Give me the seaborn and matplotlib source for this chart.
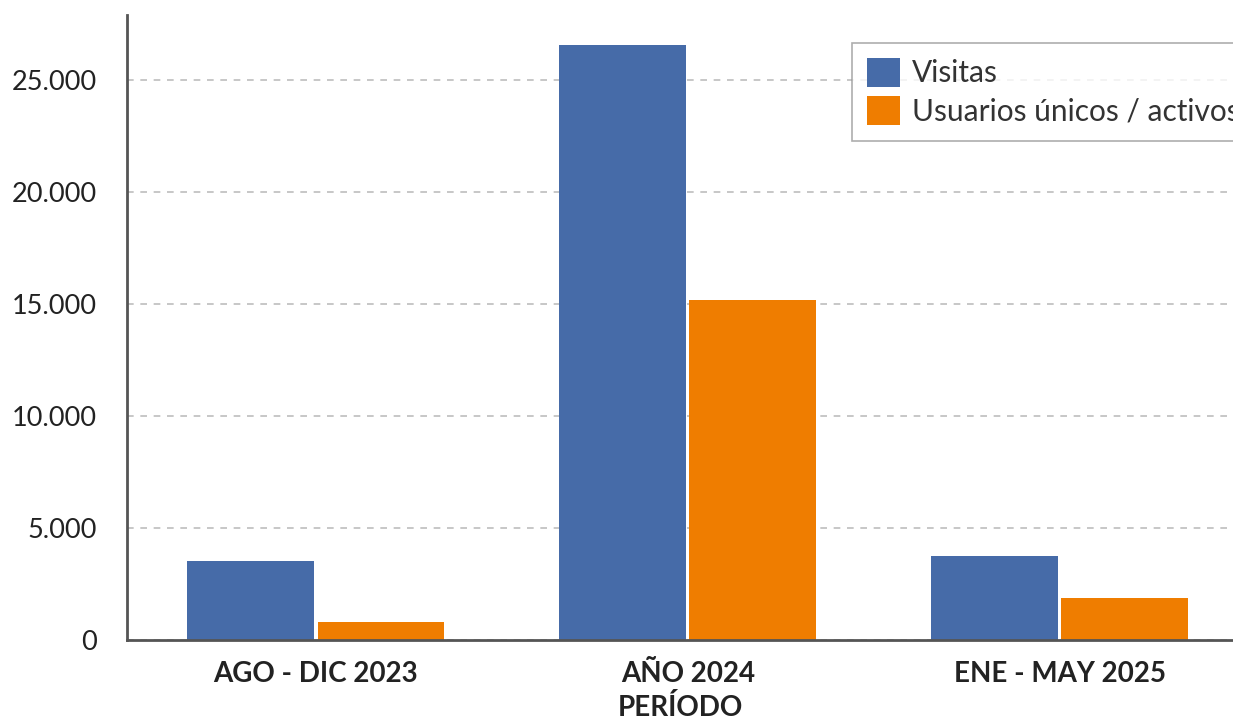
import pandas as pd
import matplotlib
matplotlib.use("Agg")
import matplotlib.pyplot as plt
import seaborn as sns
from matplotlib.ticker import FuncFormatter

periodos = ["AGO - DIC 2023", "AÑO 2024", "ENE - MAY 2025"]
visitas = [3520, 26570, 3740]
usuarios = [810, 15180, 1860]
series = ["Visitas", "Usuarios únicos / activos"]
colores = ["#466ba8", "#ef7d00"]

df = pd.DataFrame({
    "periodo": periodos * 2,
    "valor": visitas + usuarios,
    "serie": [series[0]] * 3 + [series[1]] * 3,
})

sns.set_theme(style="white")
plt.rcParams["font.family"] = ["Lato", "DejaVu Sans"]

fig = plt.figure(figsize=(12.33, 7.16), dpi=100)
ax = fig.add_axes([127 / 1233, 1 - 640 / 716, 1 - 127 / 1233, (640 - 15) / 716])

sns.barplot(data=df, x="periodo", y="valor", hue="serie", palette=colores,
            width=0.7, gap=0.025, saturation=1, edgecolor="none", ax=ax)

ax.set_xlim(-0.508, 2.466)
ax.set_ylim(0, 27900)
ax.set_yticks([0, 5000, 10000, 15000, 20000, 25000])
ax.yaxis.set_major_formatter(FuncFormatter(lambda v, p: f"{int(v):,}".replace(",", ".")))
ax.yaxis.grid(True, linestyle=(0, (4, 4)), color="#bdbdbd", linewidth=1.2)
ax.set_axisbelow(True)

for s in ["top", "right"]:
    ax.spines[s].set_visible(False)
for s in ["left", "bottom"]:
    ax.spines[s].set_color("#555555")
    ax.spines[s].set_linewidth(2)

ax.tick_params(axis="y", length=7, color="#bdbdbd", width=1.2, labelsize=19.5,
               labelcolor="#222222", pad=15)
ax.tick_params(axis="x", length=0, labelsize=20, labelcolor="#222222", pad=15)
for t in ax.get_xticklabels():
    t.set_fontweight("bold")

ax.set_ylabel("")
ax.set_xlabel("PERÍODO", fontsize=20, fontweight="bold", color="#222222", labelpad=5)

leg = ax.legend(loc="upper left", bbox_to_anchor=(852 / 1233, 1 - 43 / 716),
                bbox_transform=fig.transFigure, fontsize=21.5, frameon=True,
                fancybox=False, edgecolor="#999999", handlelength=1.1,
                handleheight=1.1, handletextpad=0.4, labelspacing=0.3,
                borderpad=0.5, borderaxespad=0)
leg.get_frame().set_linewidth(1.2)
for txt in leg.get_texts():
    txt.set_color("#333333")

fig.savefig("out.png", dpi=100)
